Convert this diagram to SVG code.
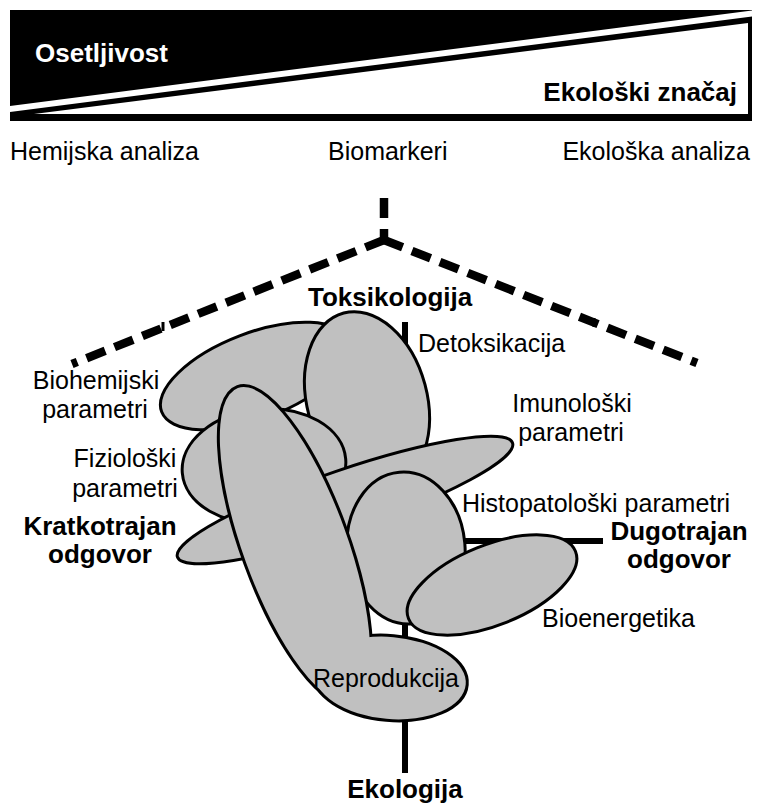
<svg xmlns="http://www.w3.org/2000/svg" width="759" height="807" viewBox="0 0 759 807">
<style>
text{font-family:"Liberation Sans",Arial,sans-serif;fill:#000}
.t{font-size:25px}
.b{font-size:26px;font-weight:bold}
.m{text-anchor:middle}
.e{fill:#c0c0c0;stroke:#000;stroke-width:3}
.dash{fill:none;stroke:#000;stroke-width:8.5;stroke-dasharray:20 10}
.axis{stroke:#000;stroke-width:6;fill:none}
</style>
<rect width="759" height="807" fill="#fff"/>
<g id="banner">
<rect x="10" y="10" width="742" height="111" fill="#000"/>
<polygon points="10,106 752,10.5 752,16.5 10,112" fill="#fff"/>
<polygon points="34,114 748,23 748,114" fill="#fff"/>
<text x="35" y="62" class="b" style="fill:#fff">Osetljivost</text>
<text x="737" y="101" class="b" text-anchor="end">Ekološki značaj</text>
</g>
<g id="scale-labels">
<text x="10" y="160" class="t">Hemijska analiza</text>
<text x="328" y="160" class="t">Biomarkeri</text>
<text x="750" y="160" class="t" text-anchor="end">Ekološka analiza</text>
</g>
<g id="connectors">
<path class="dash" d="M384,198 V222"/>
<path d="M384,229 V241" stroke="#000" stroke-width="8.5"/>
<path class="dash" d="M384,240 L72,364"/>
<path class="dash" d="M384,240 L697,363"/>
<path d="M163,322 V331" stroke="#000" stroke-width="3"/>
<path d="M594,318 V327" stroke="#000" stroke-width="3"/>
<path class="axis" d="M405,322 V773"/>
<path class="axis" d="M460,541 H603"/>
</g>
<g id="biohemijski"><ellipse class="e" cx="255" cy="376" rx="100" ry="43" transform="rotate(-21 255 376)"/></g>
<g id="toksikologija-node"><ellipse class="e" cx="367" cy="400" rx="60" ry="90" transform="rotate(-15 367 400)"/></g>
<g id="fizioloski"><ellipse class="e" cx="264" cy="466" rx="82" ry="57" transform="rotate(-5 264 466)"/></g>
<g id="imunoloski"><ellipse class="e" cx="345" cy="500" rx="177" ry="30" transform="rotate(-18.8 345 500)"/></g>
<g id="histopatoloski"><ellipse class="e" cx="406" cy="548" rx="59" ry="76" transform="rotate(-5 406 548)"/></g>
<g id="bioenergetika"><ellipse class="e" cx="492" cy="585" rx="90" ry="40" transform="rotate(-22 492 585)"/></g>
<g id="reprodukcija">
<ellipse cx="295" cy="545" rx="52" ry="167" transform="rotate(-20 295 545)" fill="#000" stroke="#000" stroke-width="6"/>
<ellipse cx="390" cy="678" rx="76" ry="41" transform="rotate(5 390 678)" fill="#000" stroke="#000" stroke-width="6"/>
<ellipse cx="295" cy="545" rx="52" ry="167" transform="rotate(-20 295 545)" fill="#c0c0c0"/>
<ellipse cx="390" cy="678" rx="76" ry="41" transform="rotate(5 390 678)" fill="#c0c0c0"/>
</g>
<g id="labels">
<text x="308" y="306" class="b">Toksikologija</text>
<text x="418" y="352" class="t">Detoksikacija</text>
<text x="96" y="389" class="t m">Biohemijski</text>
<text x="95" y="418" class="t m">parametri</text>
<text x="125" y="467" class="t m">Fiziološki</text>
<text x="125" y="497" class="t m">parametri</text>
<text x="100" y="535" class="b m">Kratkotrajan</text>
<text x="100" y="563" class="b m">odgovor</text>
<text x="572" y="412" class="t m">Imunološki</text>
<text x="571" y="441" class="t m">parametri</text>
<text x="462" y="512" class="t">Histopatološki parametri</text>
<text x="679" y="540" class="b m">Dugotrajan</text>
<text x="679" y="568" class="b m">odgovor</text>
<text x="542" y="627" class="t">Bioenergetika</text>
<text x="313" y="687" class="t">Reprodukcija</text>
<text x="405" y="798" class="b m">Ekologija</text>
</g>
</svg>
